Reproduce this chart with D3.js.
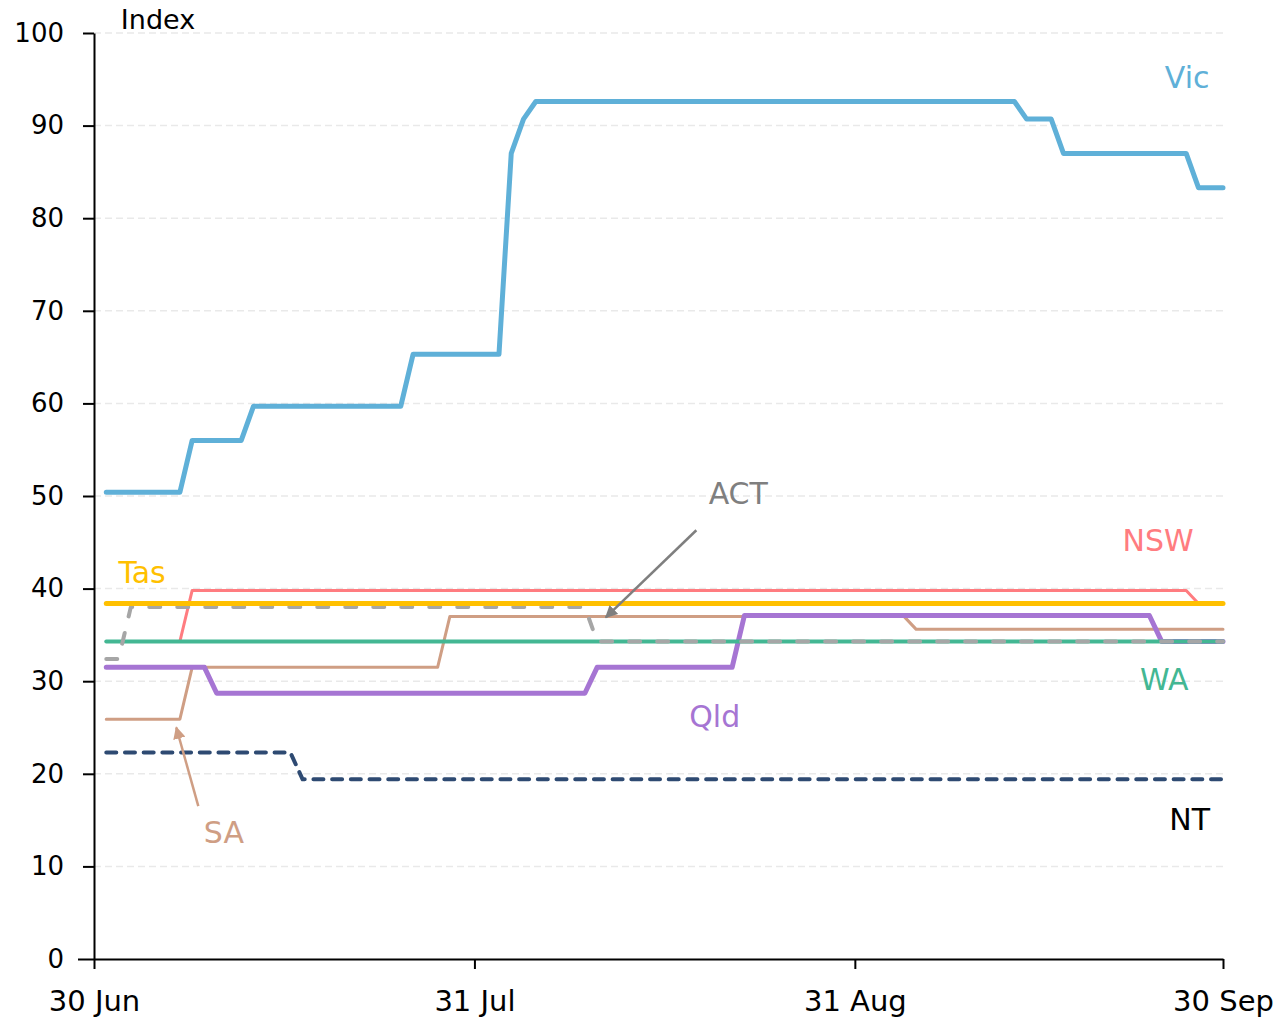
<!DOCTYPE html>
<html>
<head>
<meta charset="utf-8">
<script src="https://cdn.jsdelivr.net/npm/d3@7"></script>
<style>
  body { margin: 0; background: #fff; }
  svg { display: block; font-family: "DejaVu Sans", sans-serif; }
</style>
</head>
<body>
<svg id="chart" width="1278" height="1018"></svg>
<script>
// index values by state, only the days where the line changes
const vic = [["2020-07-01", 50.4], ["2020-07-07", 50.4], ["2020-07-08", 56.0], ["2020-07-12", 56.0],
  ["2020-07-13", 59.7], ["2020-07-25", 59.7], ["2020-07-26", 65.3], ["2020-08-02", 65.3],
  ["2020-08-03", 87.0], ["2020-08-04", 90.7], ["2020-08-05", 92.6], ["2020-09-13", 92.6],
  ["2020-09-14", 90.7], ["2020-09-16", 90.7], ["2020-09-17", 87.0], ["2020-09-27", 87.0],
  ["2020-09-28", 83.3], ["2020-09-30", 83.3]];
const nsw = [["2020-07-01", 34.3], ["2020-07-07", 34.3], ["2020-07-08", 39.8], ["2020-09-27", 39.8],
  ["2020-09-28", 38.4], ["2020-09-30", 38.4]];
const tas = [["2020-07-01", 38.4], ["2020-09-30", 38.4]];
const act = [["2020-07-01", 32.4], ["2020-07-02", 32.4], ["2020-07-03", 38.0], ["2020-08-09", 38.0],
  ["2020-08-10", 34.3], ["2020-09-30", 34.3]];
const wa = [["2020-07-01", 34.3], ["2020-09-30", 34.3]];
const qld = [["2020-07-01", 31.5], ["2020-07-09", 31.5], ["2020-07-10", 28.7], ["2020-08-09", 28.7],
  ["2020-08-10", 31.5], ["2020-08-21", 31.5], ["2020-08-22", 37.1], ["2020-09-24", 37.1],
  ["2020-09-25", 34.3], ["2020-09-30", 34.3]];
const sa = [["2020-07-01", 25.9], ["2020-07-07", 25.9], ["2020-07-08", 31.5], ["2020-07-28", 31.5],
  ["2020-07-29", 37.0], ["2020-09-04", 37.0], ["2020-09-05", 35.6], ["2020-09-30", 35.6]];
const nt = [["2020-07-01", 22.3], ["2020-07-16", 22.3], ["2020-07-17", 19.4], ["2020-09-30", 19.4]];

const xTicks = ["2020-06-30", "2020-07-31", "2020-08-31", "2020-09-30"];
const yTicks = [0, 10, 20, 30, 40, 50, 60, 70, 80, 90, 100];

// draw order matters: later series sit on top
const series = [
  { name: "NSW", data: nsw, color: "#ff7c80", width: 3 },
  { name: "SA", data: sa, color: "#cf9e84", width: 3 },
  { name: "Qld", data: qld, color: "#a675d3", width: 5 },
  { name: "WA", data: wa, color: "#43b793", width: 4 },
  { name: "ACT", data: act, color: "#a6a6a6", width: 4, dash: "11,17" },
  { name: "Tas", data: tas, color: "#ffc000", width: 5 },
  { name: "NT", data: nt, color: "#2e4a72", width: 4, dash: "10,8.7" },
  { name: "Vic", data: vic, color: "#5fb0d8", width: 5 }
];

// label positions in data units: day offset from 30 Jun, index value
const labels = [
  { text: "Vic", day: 89.1, value: 94.1, color: "#5fb0d8" },
  { text: "NSW", day: 86.7, value: 44.1, color: "#ff7c80" },
  { text: "Tas", day: 3.9, value: 40.6, color: "#ffc000" },
  { text: "ACT", day: 52.5, value: 49.1, color: "#7f7f7f" },
  { text: "WA", day: 87.2, value: 29.0, color: "#43b793" },
  { text: "Qld", day: 50.6, value: 25.1, color: "#a675d3" },
  { text: "SA", day: 10.6, value: 12.5, color: "#cf9e84" },
  { text: "NT", day: 89.3, value: 13.9, color: "#000000" }
];
const arrows = [
  { from: [49.1, 46.3], to: [41.7, 36.9], color: "#7f7f7f" },
  { from: [8.5, 16.5], to: [6.7, 25.0], color: "#cf9e84" }
];

const parse = d3.timeParse("%Y-%m-%d");
const start = parse("2020-06-30");

const margin = { top: 33, right: 55, bottom: 59, left: 94 };
const width = 1278 - margin.left - margin.right;
const height = 1018 - margin.top - margin.bottom;

const svg = d3.select("#chart");
const g = svg.append("g").attr("transform", `translate(${margin.left},${margin.top})`);

const x = d3.scaleTime().domain([start, parse("2020-09-30")]).range([0, width]);
const y = d3.scaleLinear().domain([0, 100]).range([height, 0]);
const dayX = (d) => x(d3.timeHour.offset(start, Math.round(d * 24)));

// gridlines
g.append("g")
  .selectAll("line")
  .data(yTicks.filter(t => t > 0))
  .enter()
  .append("line")
  .attr("x1", 0)
  .attr("x2", width)
  .attr("y1", d => y(d))
  .attr("y2", d => y(d))
  .attr("stroke", "#e9e9e9")
  .attr("stroke-width", 1.5)
  .attr("stroke-dasharray", "7,4");

const line = d3.line()
  .x(d => x(parse(d[0])))
  .y(d => y(d[1]));

g.append("g")
  .selectAll("path")
  .data(series)
  .enter()
  .append("path")
  .attr("d", d => line(d.data))
  .attr("fill", "none")
  .attr("stroke", d => d.color)
  .attr("stroke-width", d => d.width)
  .attr("stroke-dasharray", d => d.dash || null)
  .attr("stroke-linecap", "round")
  .attr("stroke-linejoin", "round");

// axes
const yAxis = g.append("g")
  .call(d3.axisLeft(y).tickValues(yTicks).tickSize(11).tickPadding(19).tickSizeOuter(0));
const xAxis = g.append("g")
  .attr("transform", `translate(0,${height})`)
  .call(d3.axisBottom(x).tickValues(xTicks.map(parse)).tickFormat(d3.timeFormat("%-d %b"))
    .tickSize(10).tickPadding(21).tickSizeOuter(0));

[yAxis, xAxis].forEach(a => {
  a.select(".domain").attr("stroke", "#000").attr("stroke-width", 2);
  a.selectAll(".tick line").attr("stroke", "#000").attr("stroke-width", 2);
  a.selectAll("text").attr("fill", "#000").style("font-family", "DejaVu Sans, sans-serif");
});
yAxis.selectAll("text").style("font-size", "26px");
xAxis.selectAll("text").style("font-size", "29px");
// x axis runs out under the y ticks like the original
yAxis.select(".tick line").attr("x1", 0).attr("x2", -16);

g.append("text")
  .attr("x", 64)
  .attr("y", -4)
  .attr("text-anchor", "middle")
  .style("font-size", "27px")
  .attr("fill", "#000")
  .text("Index");

// series labels
g.append("g")
  .selectAll("text")
  .data(labels)
  .enter()
  .append("text")
  .attr("x", d => dayX(d.day))
  .attr("y", d => y(d.value))
  .attr("text-anchor", "middle")
  .attr("fill", d => d.color)
  .style("font-size", "30px")
  .text(d => d.text);

// annotation arrows
const defs = svg.append("defs");
arrows.forEach((a, i) => {
  defs.append("marker")
    .attr("id", "head" + i)
    .attr("viewBox", "0 0 10 10")
    .attr("refX", 9)
    .attr("refY", 5)
    .attr("markerWidth", 5)
    .attr("markerHeight", 5)
    .attr("orient", "auto")
    .append("path")
    .attr("d", "M0,0L10,5L0,10z")
    .attr("fill", a.color);
  g.append("line")
    .attr("x1", dayX(a.from[0]))
    .attr("y1", y(a.from[1]))
    .attr("x2", dayX(a.to[0]))
    .attr("y2", y(a.to[1]))
    .attr("stroke", a.color)
    .attr("stroke-width", 2.5)
    .attr("marker-end", `url(#head${i})`);
});
</script>
</body>
</html>
